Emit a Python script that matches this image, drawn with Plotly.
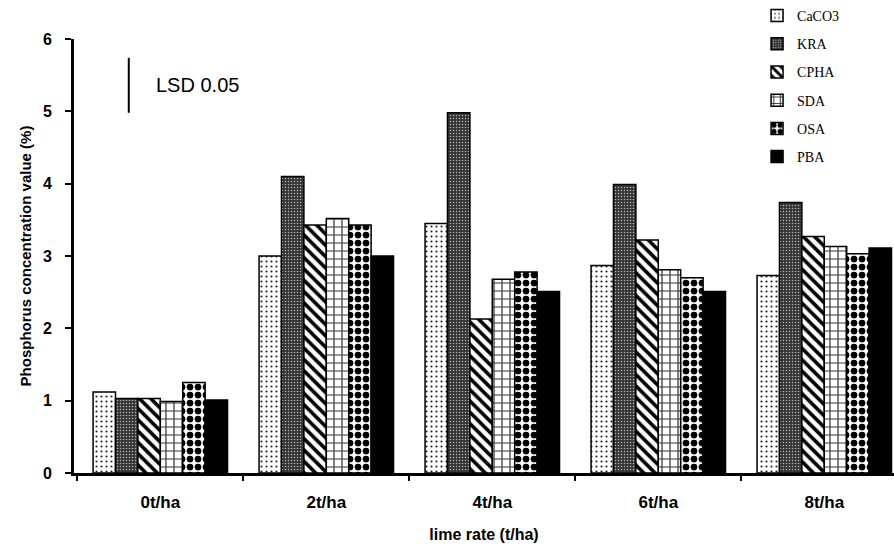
import plotly.graph_objects as go

categories = ["0t/ha", "2t/ha", "4t/ha", "6t/ha", "8t/ha"]
series_names = ["CaCO3", "KRA", "CPHA", "SDA", "OSA", "PBA"]

caco3 = [1.12, 3.00, 3.45, 2.87, 2.73]
kra = [1.03, 4.10, 4.98, 3.99, 3.74]
cpha = [1.03, 3.43, 2.13, 3.22, 3.27]
sda = [0.99, 3.52, 2.68, 2.81, 3.13]
osa = [1.25, 3.43, 2.78, 2.70, 3.03]
pba = [1.01, 3.00, 2.51, 2.51, 3.11]

lsd_low, lsd_high = 4.98, 5.74

series_values = [caco3, kra, cpha, sda, osa, pba]

# fill styles for each lime source
styles = [
    dict(color="white", pattern=dict(shape=".", fgcolor="#222", bgcolor="white", size=5, solidity=0.15)),
    dict(color="#444", pattern=dict(shape=".", fgcolor="#bbb", bgcolor="#333", size=3, solidity=0.2)),
    dict(color="white", pattern=dict(shape="\\", fgcolor="#000", bgcolor="white", size=8, solidity=0.45)),
    dict(color="white", pattern=dict(shape="+", fgcolor="#333", bgcolor="white", size=8, solidity=0.28)),
    dict(color="white", pattern=dict(shape=".", fgcolor="#000", bgcolor="white", size=8, solidity=0.55)),
    dict(color="black", pattern=dict(shape="")),
]

fig = go.Figure()
for name, vals, st in zip(series_names, series_values, styles):
    pat = dict(st["pattern"])
    if pat.get("shape"):
        pat["fgopacity"] = 1
        pat["fillmode"] = "replace"
    fig.add_trace(go.Bar(
        x=categories, y=vals, name=name, legendgroup=name,
        marker=dict(color=st["color"], pattern=pat,
                    line=dict(color="black", width=1.5)),
    ))

# LSD bar
fig.add_shape(type="line", xref="x", yref="y", x0=-0.19, x1=-0.19,
              y0=lsd_low, y1=lsd_high, line=dict(color="black", width=2))
fig.add_annotation(x=0.226, y=(lsd_low + lsd_high) / 2, xref="x", yref="y",
                   text="LSD 0.05", showarrow=False, xanchor="center",
                   font=dict(family="Liberation Sans, Arial", size=20, color="black"))

fig.update_layout(
    width=894, height=546,
    margin=dict(l=74, r=0, t=38, b=73),
    paper_bgcolor="white", plot_bgcolor="white",
    barmode="group", bargap=0.19, bargroupgap=0,
    showlegend=True,
    legend=dict(x=0.833, y=1.09, xanchor="left", yanchor="top",
                font=dict(family="Liberation Serif, Times New Roman", size=14, color="black"),
                tracegroupgap=7, itemwidth=30, bgcolor="rgba(0,0,0,0)"),
    font=dict(family="Liberation Sans, Arial", color="black"),
)
fig.update_xaxes(
    range=[-0.52, 4.42], showline=True, linecolor="black", linewidth=3,
    ticks="outside", tickson="boundaries", ticklen=5, tickwidth=2, tickcolor="black",
    tickfont=dict(size=17), ticklabelstandoff=12,
    ticktext=["<b>%s</b>" % c for c in categories], tickvals=categories,
    title=dict(text="<b>lime rate (t/ha)</b>", font=dict(size=16), standoff=18),
    showgrid=False,
)
fig.update_yaxes(
    range=[0, 6], dtick=1, showline=True, linecolor="black", linewidth=3,
    ticks="outside", ticklen=6, tickwidth=2, tickcolor="black",
    tickfont=dict(size=16), ticklabelstandoff=10,
    tickprefix="<b>", ticksuffix="</b>",
    title=dict(text="<b>Phosphorus concentration value (%)</b>", font=dict(size=15), standoff=8),
    showgrid=False, zeroline=False,
)

fig.write_html("out.html")
